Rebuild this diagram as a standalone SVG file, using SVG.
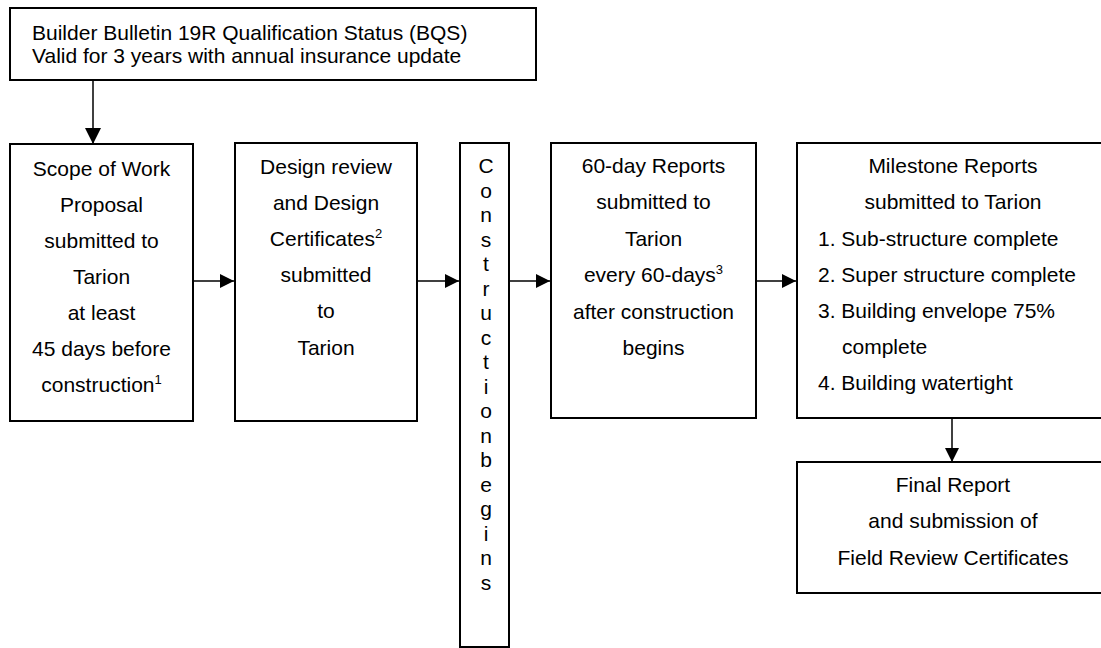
<svg xmlns="http://www.w3.org/2000/svg" width="1101" height="648" viewBox="0 0 1101 648">
<defs>
<marker id="ah" markerWidth="14" markerHeight="14" viewBox="0 0 14 14" refX="14" refY="7" orient="auto" markerUnits="userSpaceOnUse">
<path d="M0,0 L14,7 L0,14 Z" fill="#000"/>
</marker>
<marker id="ahd" markerWidth="16" markerHeight="16" viewBox="0 0 16 16" refX="16" refY="8" orient="auto" markerUnits="userSpaceOnUse">
<path d="M0,0 L16,8 L0,16 Z" fill="#000"/>
</marker>
</defs>
<style>
.box{fill:#fff;stroke:#000;stroke-width:2}
.t{font-family:"Liberation Sans",Arial,sans-serif;font-size:21px;fill:#000}
.c{text-anchor:middle}
.sup{font-size:13px}
.ln{stroke:#000;stroke-width:1.5;fill:none}
</style>
<rect width="1101" height="648" fill="#fff"/>
<g id="connectors">
<line class="ln" x1="93" y1="80" x2="93" y2="144" marker-end="url(#ahd)"/>
<line class="ln" x1="193" y1="281" x2="234" y2="281" marker-end="url(#ah)"/>
<line class="ln" x1="417" y1="281" x2="459" y2="281" marker-end="url(#ah)"/>
<line class="ln" x1="509" y1="281" x2="550" y2="281" marker-end="url(#ah)"/>
<line class="ln" x1="756" y1="281" x2="796" y2="281" marker-end="url(#ah)"/>
<line class="ln" x1="952" y1="413" x2="952" y2="462" marker-end="url(#ah)"/>
</g>
<g id="bqs">
<rect class="box" x="10" y="8" width="526" height="72"/>
<text class="t" x="32" y="40">Builder Bulletin 19R Qualification Status (BQS)</text>
<text class="t" x="32" y="63">Valid for 3 years with annual insurance update</text>
</g>
<g id="scope">
<rect class="box" x="10" y="144" width="183" height="277"/>
<text class="t c" x="101.5" y="176">Scope of Work</text>
<text class="t c" x="101.5" y="212">Proposal</text>
<text class="t c" x="101.5" y="248">submitted to</text>
<text class="t c" x="101.5" y="284">Tarion</text>
<text class="t c" x="101.5" y="320">at least</text>
<text class="t c" x="101.5" y="356">45 days before</text>
<text class="t c" x="101.5" y="392">construction<tspan class="sup" dy="-8">1</tspan></text>
</g>
<g id="design">
<rect class="box" x="235" y="143" width="182" height="278"/>
<text class="t c" x="326" y="174">Design review</text>
<text class="t c" x="326" y="210">and Design</text>
<text class="t c" x="326" y="246">Certificates<tspan class="sup" dy="-8">2</tspan></text>
<text class="t c" x="326" y="282">submitted</text>
<text class="t c" x="326" y="318">to</text>
<text class="t c" x="326" y="355">Tarion</text>
</g>
<g id="construction">
<rect class="box" x="460" y="143" width="49" height="504"/>
<text class="t c" x="486" y="173">C</text>
<text class="t c" x="486" y="197.5">o</text>
<text class="t c" x="486" y="222">n</text>
<text class="t c" x="486" y="246.5">s</text>
<text class="t c" x="486" y="271">t</text>
<text class="t c" x="486" y="295.5">r</text>
<text class="t c" x="486" y="320">u</text>
<text class="t c" x="486" y="344.5">c</text>
<text class="t c" x="486" y="369">t</text>
<text class="t c" x="486" y="393.5">i</text>
<text class="t c" x="486" y="418">o</text>
<text class="t c" x="486" y="442.5">n</text>
<text class="t c" x="486" y="467">b</text>
<text class="t c" x="486" y="491.5">e</text>
<text class="t c" x="486" y="516">g</text>
<text class="t c" x="486" y="540.5">i</text>
<text class="t c" x="486" y="565">n</text>
<text class="t c" x="486" y="589.5">s</text>
</g>
<g id="sixty">
<rect class="box" x="551" y="143" width="205" height="275"/>
<text class="t c" x="653.5" y="173">60-day Reports</text>
<text class="t c" x="653.5" y="209">submitted to</text>
<text class="t c" x="653.5" y="246">Tarion</text>
<text class="t c" x="653.5" y="282">every 60-days<tspan class="sup" dy="-8">3</tspan></text>
<text class="t c" x="653.5" y="319">after construction</text>
<text class="t c" x="653.5" y="355">begins</text>
</g>
<g id="milestone">
<rect class="box" x="797" y="143" width="320" height="275"/>
<text class="t c" x="953" y="173">Milestone Reports</text>
<text class="t c" x="953" y="209">submitted to Tarion</text>
<text class="t" x="818" y="246">1. Sub-structure complete</text>
<text class="t" x="818" y="282">2. Super structure complete</text>
<text class="t" x="818" y="318">3. Building envelope 75%</text>
<text class="t" x="842" y="354">complete</text>
<text class="t" x="818" y="390">4. Building watertight</text>
</g>
<g id="final">
<rect class="box" x="797" y="462" width="320" height="131"/>
<text class="t c" x="953" y="492">Final Report</text>
<text class="t c" x="953" y="528">and submission of</text>
<text class="t c" x="953" y="565">Field Review Certificates</text>
</g>
</svg>
